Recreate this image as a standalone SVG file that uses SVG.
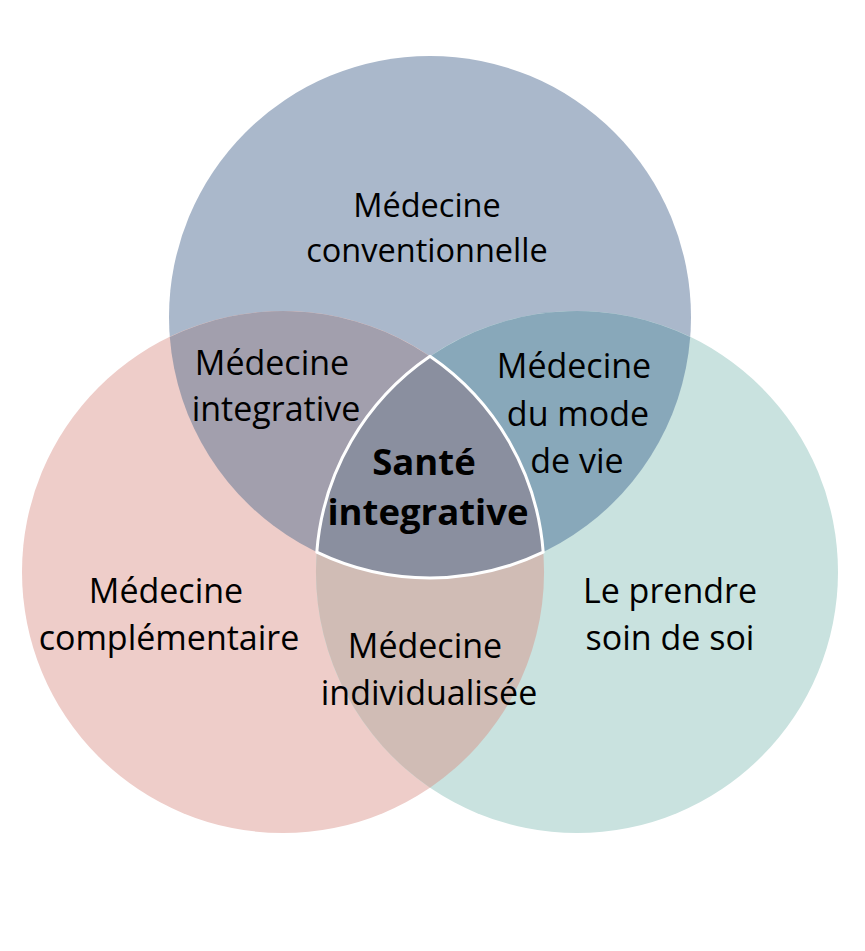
<svg xmlns="http://www.w3.org/2000/svg" width="865" height="951" viewBox="0 0 865 951">
<style>
.lbl{font-family:"Open Sans","Liberation Sans",sans-serif;font-size:34px;fill:#000;text-anchor:middle}
.top{font-size:32.5px}
.bold{font-weight:bold;font-size:36.5px}
</style>
<rect width="865" height="951" fill="#ffffff"/>
<g id="circle-top"><circle cx="430" cy="317" r="261" fill="#aab8cb"/></g>
<g id="circle-left"><circle cx="283" cy="572" r="261" fill="#eecdc9"/></g>
<g id="circle-right"><circle cx="577" cy="572" r="261" fill="#c9e2df"/></g>
<g id="overlap-top-left"><path d="M169.8,336.9 A261,261 0 0 1 543.2,552.1 A261,261 0 0 1 169.8,336.9 Z" fill="#a29fad"/></g>
<g id="overlap-top-right"><path d="M316.8,552.1 A261,261 0 0 1 690.2,336.9 A261,261 0 0 1 316.8,552.1 Z" fill="#88a8ba"/></g>
<g id="overlap-left-right"><path d="M430,356.3 A261,261 0 0 1 430,787.7 A261,261 0 0 1 430,356.3 Z" fill="#d0bcb5"/></g>
<g id="center"><path d="M430,356.3 A261,261 0 0 0 316.8,552.1 A261,261 0 0 0 543.2,552.1 A261,261 0 0 0 430,356.3 Z" fill="#8a8f9f" stroke="#ffffff" stroke-width="3" stroke-linejoin="round"/></g>
<g id="labels">
<text class="lbl top" x="427" y="217">Médecine</text>
<text class="lbl top" x="427" y="262">conventionnelle</text>
<text class="lbl" x="272" y="375">Médecine</text>
<text class="lbl" x="276" y="421">integrative</text>
<text class="lbl" x="574" y="378">Médecine</text>
<text class="lbl" x="578" y="426">du mode</text>
<text class="lbl" x="577" y="473">de vie</text>
<text class="lbl bold" x="424" y="475">Santé</text>
<text class="lbl bold" x="428" y="525">integrative</text>
<text class="lbl" x="166" y="603">Médecine</text>
<text class="lbl" x="169" y="650">complémentaire</text>
<text class="lbl" x="425" y="658">Médecine</text>
<text class="lbl" x="429" y="705">individualisée</text>
<text class="lbl" x="670" y="603">Le prendre</text>
<text class="lbl" x="670" y="650">soin de soi</text>
</g>
</svg>
